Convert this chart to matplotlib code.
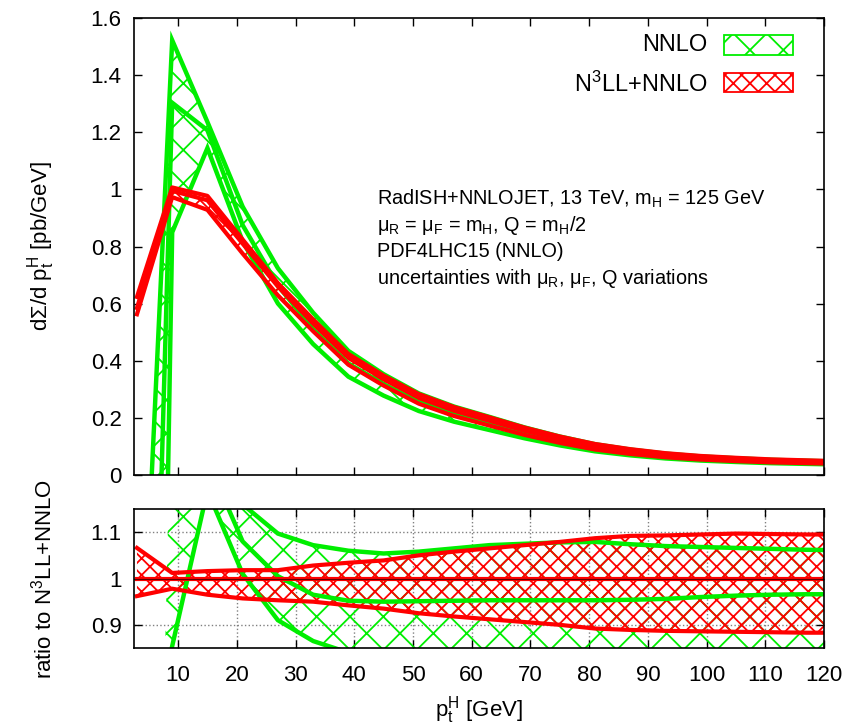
import matplotlib
matplotlib.use('Agg')
import matplotlib.pyplot as plt
from matplotlib.patches import Rectangle
from matplotlib.ticker import FuncFormatter
import numpy as np

plt.rcParams['font.family'] = ['Liberation Sans', 'DejaVu Sans']
plt.rcParams['mathtext.fontset'] = 'custom'
plt.rcParams['mathtext.rm'] = 'Liberation Sans'
plt.rcParams['mathtext.it'] = 'Liberation Sans'
plt.rcParams['mathtext.default'] = 'regular'
plt.rcParams['hatch.linewidth'] = 1.3

# bin centres in GeV
pt = [3, 9, 15, 21, 27, 33, 39, 45, 51, 57, 63, 69, 75, 81, 87, 93, 99, 105, 111, 117, 123]

# N3LL+NNLO central value [pb/GeV] and band (ratio to central)
resum_central = [0.585, 0.995, 0.962, 0.81, 0.66, 0.53, 0.41, 0.335, 0.27, 0.225, 0.19,
                 0.155, 0.125, 0.10, 0.083, 0.07, 0.061, 0.055, 0.05, 0.047, 0.044]
resum_up = [1.066, 1.012, 1.016, 1.018, 1.018, 1.028, 1.034, 1.039, 1.05, 1.058, 1.065,
            1.072, 1.079, 1.087, 1.092, 1.093, 1.095, 1.097, 1.096, 1.095, 1.095]
resum_down = [0.962, 0.978, 0.965, 0.957, 0.953, 0.950, 0.942, 0.935, 0.925, 0.918, 0.912,
              0.906, 0.900, 0.892, 0.889, 0.887, 0.886, 0.885, 0.884, 0.883, 0.883]

# NNLO (ratio to N3LL+NNLO central)
nnlo_up = [-1.88, 1.53, 1.285, 1.16, 1.097, 1.072, 1.06, 1.054, 1.058, 1.065, 1.072,
           1.075, 1.078, 1.079, 1.074, 1.07, 1.068, 1.066, 1.064, 1.062, 1.061]
nnlo_mid = [-5.13, 1.31, 1.255, 1.08, 1.005, 0.965, 0.952, 0.95, 0.951, 0.952, 0.953,
            0.953, 0.953, 0.953, 0.954, 0.956, 0.96, 0.963, 0.965, 0.966, 0.966]
nnlo_down = [-10.9, 0.854, 1.19, 1.01, 0.91, 0.865, 0.84, 0.83, 0.83, 0.83, 0.83,
             0.83, 0.83, 0.83, 0.83, 0.83, 0.83, 0.83, 0.83, 0.83, 0.83]

green = '#00ee00'
red = '#ff0000'

x = np.array(pt)
c = np.array(resum_central)

fig = plt.figure(figsize=(8.45, 7.28), dpi=100)
ax = fig.add_axes([0.1586, 0.3475, 0.8166, 0.6277])
axr = fig.add_axes([0.1586, 0.1099, 0.8166, 0.1909])

def draw(a, scale, first):
    a.fill_between(x, np.array(nnlo_down) * scale, np.array(nnlo_up) * scale,
                   facecolor='none', edgecolor=green, hatch='x', linewidth=0)
    a.fill_between(x, np.array(resum_down) * scale, np.array(resum_up) * scale,
                   facecolor='none', edgecolor=red, hatch='xx', linewidth=0)
    sl = slice(first, None)
    sc = scale[sl] if np.ndim(scale) else scale
    for s in (nnlo_up, nnlo_mid, nnlo_down):
        a.plot(x[sl], np.array(s)[sl] * sc, color=green, lw=3.2, solid_joinstyle='miter')
    for s in (resum_up, resum_down):
        a.plot(x, np.array(s) * scale, color=red, lw=3.0)
    a.plot(x, np.ones_like(c) * scale, color=red, lw=3.0)

draw(ax, c, 0)
draw(axr, 1.0, 1)
# dark reference line at ratio 1
axr.axhline(1.0, color='#600000', lw=0.8)

fmt = FuncFormatter(lambda v, p: '%g' % round(v, 3))
for a in (ax, axr):
    a.set_xlim(2.5, 120)
    a.set_xticks(np.arange(10, 121, 10))
    a.tick_params(direction='in', top=True, right=True, length=6, width=1,
                  labelsize=16, pad=9)
    a.tick_params(axis='x', pad=12)
    a.yaxis.set_major_formatter(fmt)
    for sp in a.spines.values():
        sp.set_linewidth(1.2)

ax.set_ylim(0, 1.6)
ax.set_yticks(np.arange(0, 1.61, 0.2))
ax.tick_params(labelbottom=False)
ax.set_ylabel(r'd$\Sigma$/d p$_t^H$ [pb/GeV]', fontsize=16)

axr.set_ylim(0.85, 1.15)
axr.set_yticks([0.9, 1.0, 1.1])
axr.grid(True, color='#808080', linestyle=':', linewidth=1.0)
axr.set_axisbelow(True)
axr.set_ylabel(r'ratio to N$^3$LL+NNLO', fontsize=16)
axr.set_xlabel(r'p$_t^H$ [GeV]', fontsize=16, labelpad=6)
axr.yaxis.set_label_coords(-0.112, 0.5)
ax.yaxis.set_label_coords(-0.112, 0.5)

# legend
ax.text(0.831, 0.941, 'NNLO', transform=ax.transAxes, ha='right', va='center', fontsize=17)
ax.add_patch(Rectangle((0.855, 0.919), 0.10, 0.044, transform=ax.transAxes,
                       facecolor='none', edgecolor=green, hatch='x', lw=1.3))
ax.text(0.831, 0.856, r'N$^3$LL+NNLO', transform=ax.transAxes, ha='right', va='center', fontsize=17)
ax.add_patch(Rectangle((0.855, 0.838), 0.10, 0.042, transform=ax.transAxes,
                       facecolor='none', edgecolor=red, hatch='xx', lw=1.3))

# annotation
info = ['RadISH+NNLOJET, 13 TeV, m$_H$ = 125 GeV',
        r'$\mu_R$ = $\mu_F$ = m$_H$, Q = m$_H$/2',
        'PDF4LHC15 (NNLO)',
        r'uncertainties with $\mu_R$, $\mu_F$, Q variations']
for i, t in enumerate(info):
    ax.text(0.352, 0.605 - i * 0.058, t, transform=ax.transAxes, fontsize=14.3,
            ha='left', va='center')

fig.savefig('out.png', dpi=100)
